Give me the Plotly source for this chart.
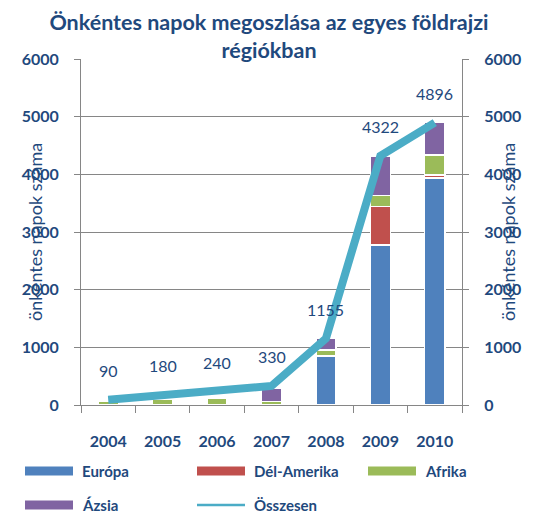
import plotly.graph_objects as go

years = ["2004", "2005", "2006", "2007", "2008", "2009", "2010"]
europa = [0, 0, 0, 0, 840, 2775, 3935]
del_amerika = [0, 0, 0, 0, 20, 665, 50]
afrika = [60, 100, 120, 60, 90, 190, 350]
azsia = [0, 0, 0, 230, 205, 690, 560]
osszesen = [90, 180, 240, 330, 1155, 4322, 4896]

series_names = ["Európa", "Dél-Amerika", "Afrika", "Ázsia"]
series_vals = [europa, del_amerika, afrika, azsia]
series_cols = ["#4F81BD", "#C0504D", "#9BBB59", "#8064A2"]
line_col = "#4BACC6"
txt = "#1F497D"
FONT = "Lato"

W, H = 538, 512
ML, MR, MT, MB = 81, 76, 59, 107

fig = go.Figure()
for name, vals, col in zip(series_names, series_vals, series_cols):
    fig.add_trace(go.Bar(x=years, y=vals, name=name, marker=dict(color=col, line=dict(color="white", width=1.5)),
                         width=0.37, showlegend=False))
fig.add_trace(go.Scatter(x=years, y=osszesen, name="Összesen", mode="lines",
                         line=dict(color=line_col, width=8), showlegend=False))
fig.add_trace(go.Scatter(x=years, y=osszesen, yaxis="y2", mode="lines", line=dict(width=0),
                         opacity=0, hoverinfo="skip", showlegend=False))

for i, v in enumerate(osszesen):
    fig.add_annotation(x=i, y=v, text=str(v), showarrow=False, yshift=29,
                       font=dict(family=FONT, size=16, color=txt))

def px2x(px):
    return (px - ML) / (W - ML - MR)

def py2y(py):
    return (H - MB - py) / (H - MT - MB)

# custom legend
legend_items = [("Európa", series_cols[0], "bar", 25, 471), ("Dél-Amerika", series_cols[1], "bar", 197, 471),
                ("Afrika", series_cols[2], "bar", 368, 471), ("Ázsia", series_cols[3], "bar", 25, 505),
                ("Összesen", line_col, "line", 197, 505)]
for label, col, kind, lx, ly in legend_items:
    if kind == "bar":
        fig.add_shape(type="rect", xref="paper", yref="paper", x0=px2x(lx), x1=px2x(lx + 48),
                      y0=py2y(ly + 4.5), y1=py2y(ly - 4.5), fillcolor=col, line=dict(width=0))
    else:
        fig.add_shape(type="line", xref="paper", yref="paper", x0=px2x(lx), x1=px2x(lx + 48),
                      y0=py2y(ly), y1=py2y(ly), line=dict(color=col, width=2.5))
    fig.add_annotation(xref="paper", yref="paper", x=px2x(lx + 55), y=py2y(ly), text=label, showarrow=False,
                       xanchor="left", yanchor="middle", font=dict(family=FONT, size=15, color=txt, weight="bold"))

# axis titles
fig.add_annotation(xref="paper", yref="paper", x=px2x(22), y=0.5, text="önkéntes napok száma", textangle=-90,
                   showarrow=False, font=dict(family=FONT, size=18, color=txt))
fig.add_annotation(xref="paper", yref="paper", x=px2x(521), y=0.5, text="önkéntes napok száma", textangle=-90,
                   showarrow=False, font=dict(family=FONT, size=18, color=txt))

axis_common = dict(range=[0, 6000], dtick=1000, tickfont=dict(family=FONT, size=16, color=txt, weight="bold"),
                   ticks="outside", ticklen=6, tickcolor="#868686", showline=True, linecolor="#868686",
                   zeroline=False, ticklabelstandoff=12)
fig.update_layout(
    width=W, height=H, margin=dict(l=ML, r=MR, t=MT, b=MB),
    paper_bgcolor="white", plot_bgcolor="white", barmode="stack",
    title=dict(text="Önkéntes napok megoszlása az egyes földrajzi<br>régiókban", x=0.5, xanchor="center",
               yref="container", y=1 - 30 / H, yanchor="middle",
               font=dict(family=FONT, size=21.5, color=txt, weight="bold")),
    xaxis=dict(type="category", range=[-0.5, len(years) - 0.5], tickson="boundaries", ticks="outside", ticklen=7,
               tickcolor="#868686", showline=True, linecolor="#868686", tickangle=0, ticklabelstandoff=22,
               tickfont=dict(family=FONT, size=16, color=txt, weight="bold")),
    yaxis=dict(**axis_common, showgrid=True, gridcolor="#868686", gridwidth=1),
    yaxis2=dict(**axis_common, overlaying="y", side="right", showgrid=False),
    showlegend=False,
)
fig.write_html("out.html")
